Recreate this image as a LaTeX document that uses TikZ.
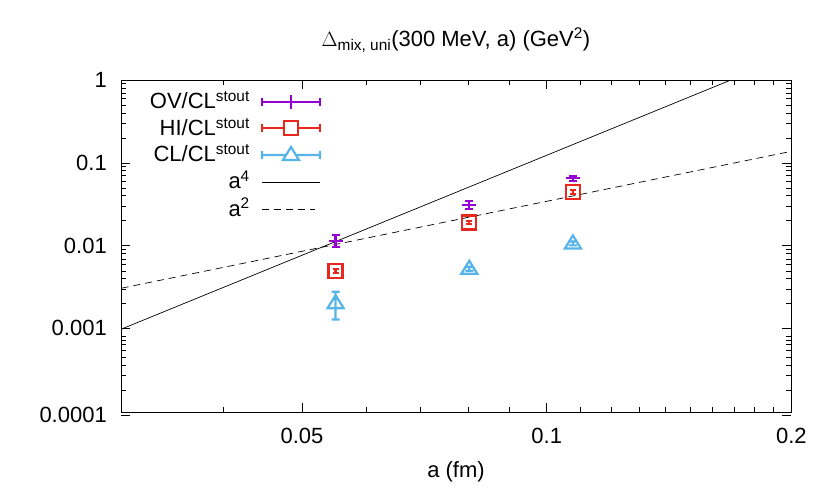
\documentclass[tikz,border=0pt]{standalone}
\usepackage{fontspec}
\setmainfont{Liberation Sans}
\usetikzlibrary{positioning}
\definecolor{ovcol}{HTML}{9400D3}
\definecolor{hicol}{HTML}{E8281E}
\definecolor{clcol}{HTML}{56B4E9}
\begin{document}
\begin{tikzpicture}[x=1pt,y=-1pt,
  declare function={px(\a)=302+813*log10(\a/0.05); py(\v)=80-83*log10(\v);
    pl(\a,\k,\c)=80-83*(log10(\c)+\k*log10(\a));},
  lab/.style={font=\fontsize{22}{24}\selectfont,inner sep=0pt},
  bar/.style={line width=2.2pt},
  frame/.style={line width=0.7pt}]
\useasboundingbox (0,0) rectangle (830,498);
% axes box
\draw [frame] (121,80) rectangle (791,412);
% y ticks
\foreach \e/\t in {0/1,-1/0.1,-2/0.01,-3/0.001,-4/0.0001} {
  \draw [frame] (121,{py(10^\e)}) -- ++(9,0);
  \draw [frame] (791,{py(10^\e)}) -- ++(-9,0);
  \node [lab,anchor=east] at (107,{py(10^\e)}) {\t};
}
\foreach \e in {-4,-3,-2,-1} \foreach \m in {2,...,9} {
  \draw [frame] (121,{py(\m*10^\e)}) -- ++(5,0);
  \draw [frame] (791,{py(\m*10^\e)}) -- ++(-5,0);
}
% x ticks
\foreach \a/\t in {0.05/0.05,0.1/0.1,0.2/0.2} {
  \draw [frame] ({px(\a)},412) -- ++(0,-9);
  \draw [frame] ({px(\a)},80) -- ++(0,9);
  \node [lab,anchor=north] at ({px(\a)},428) {\t};
}
\foreach \a in {0.03,0.04,0.06,0.07,0.08,0.09,0.11,0.12,0.13,0.14,0.15,0.16,0.17,0.18,0.19} {
  \draw [frame] ({px(\a)},412) -- ++(0,-5);
  \draw [frame] ({px(\a)},80) -- ++(0,5);
}
% titles
\node [lab] (title) at (456,40) {$\Delta$\textsubscript{mix, uni}(300 MeV, a) (GeV\textsuperscript{2})};
\node [lab] (xlabel) at (456,472) {a (fm)};
% fit lines
\begin{scope}
\clip (121,80) rectangle (791,412);
\draw [frame] ({px(0.03)},{pl(0.03,4,1234.6)}) -- ({px(0.2)},{pl(0.2,4,1234.6)});
\draw [frame,dash pattern=on 7pt off 5pt] ({px(0.03)},{pl(0.03,2,3.45)}) -- ({px(0.2)},{pl(0.2,2,3.45)});
\end{scope}
% data: OV
\foreach \a/\v/\lo/\hi in {0.055/0.0115/0.0097/0.0135,0.0803/0.031/0.028/0.034,0.1077/0.065/0.061/0.069} {
  \draw [bar,ovcol] ({px(\a)},{py(\lo)}) -- ({px(\a)},{py(\hi)})
    ({px(\a)-4},{py(\lo)}) -- ++(8,0) ({px(\a)-4},{py(\hi)}) -- ++(8,0)
    ({px(\a)-7},{py(\v)}) -- ++(14,0);
}
% data: HI
\foreach \a/\v/\lo/\hi in {0.055/0.005/0.0047/0.0053,0.0803/0.019/0.018/0.020,0.1077/0.045/0.0425/0.0475} {
  \draw [bar,hicol] ({px(\a)-7},{py(\v)-7}) rectangle ++(14,14)
    ({px(\a)},{py(\lo)}) -- ({px(\a)},{py(\hi)})
    ({px(\a)-3},{py(\lo)}) -- ++(6,0) ({px(\a)-3},{py(\hi)}) -- ++(6,0);
}
% data: CL
\foreach \a/\v/\lo/\hi in {0.055/0.002/0.0013/0.0028,0.0803/0.0053/0.0050/0.0056,0.1077/0.0107/0.0101/0.0113} {
  \draw [bar,clcol] ({px(\a)},{py(\v)-8}) -- ++(8,13) -- ++(-16,0) -- cycle
    ({px(\a)},{py(\lo)}) -- ({px(\a)},{py(\hi)})
    ({px(\a)-4},{py(\lo)}) -- ++(8,0) ({px(\a)-4},{py(\hi)}) -- ++(8,0);
}
% legend
\node [lab,anchor=east] (lov) at (250,100) {OV/CL\textsuperscript{stout}};
\node [lab,anchor=east] (lhi) at (250,127) {HI/CL\textsuperscript{stout}};
\node [lab,anchor=east] (lcl) at (250,153) {CL/CL\textsuperscript{stout}};
\node [lab,anchor=east] (la4) at (250,180) {a\textsuperscript{4}};
\node [lab,anchor=east] (la2) at (250,207) {a\textsuperscript{2}};
\draw [bar,ovcol] (262,102) -- (320,102) (262,98) -- ++(0,8) (320,98) -- ++(0,8) (291,95) -- ++(0,14);
\draw [bar,hicol] (262,128) -- (284,128) (298,128) -- (320,128) (262,124) -- ++(0,8) (320,124) -- ++(0,8) (284,121) rectangle ++(14,14);
\draw [bar,clcol] (262,155) -- (285,155) (297,155) -- (320,155) (262,151) -- ++(0,8) (320,151) -- ++(0,8) (291,147) -- ++(8,13) -- ++(-16,0) -- cycle;
\draw [frame] (262,182) -- (320,182);
\draw [frame,dash pattern=on 7pt off 5pt] (262,209) -- (315,209);
\end{tikzpicture}
\end{document}
